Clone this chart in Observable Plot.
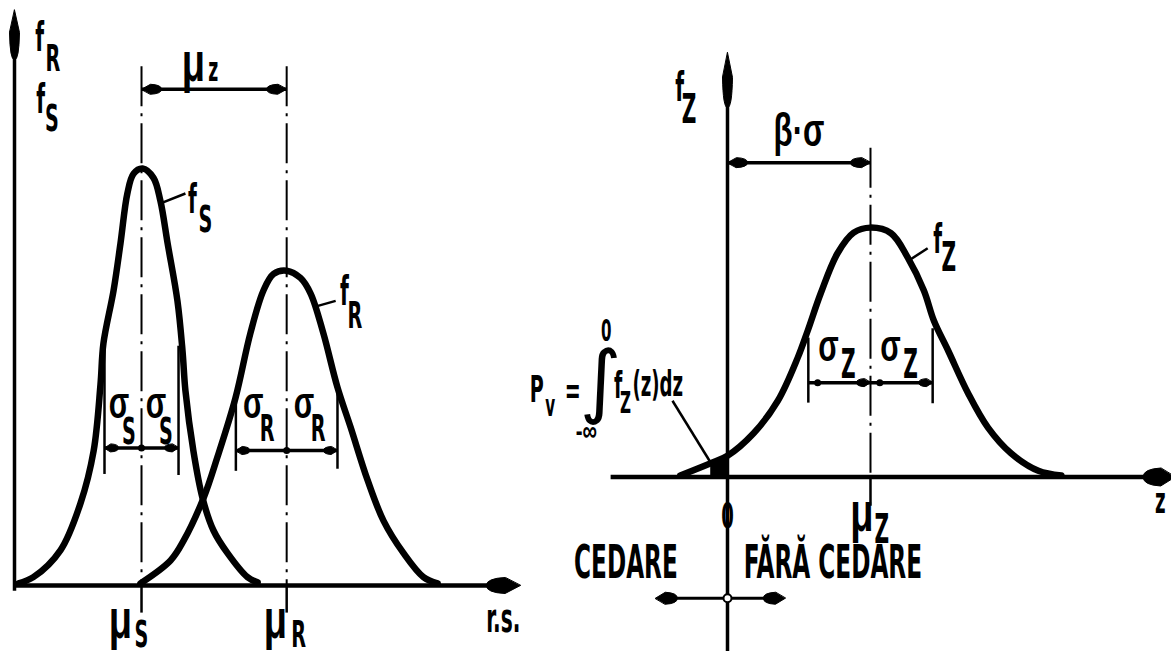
<!DOCTYPE html>
<html>
<head>
<meta charset="utf-8">
<script src="https://cdn.jsdelivr.net/npm/d3@7"></script>
<script src="https://cdn.jsdelivr.net/npm/@observablehq/plot@0.6"></script>
<style>
  html, body { margin: 0; padding: 0; background: #fff; }
  #fig { position: relative; width: 1171px; height: 651px; overflow: hidden; background: #fff; }
  #fig svg { position: absolute; left: 0; top: 0; }
</style>
</head>
<body>
<div id="fig"></div>
<script>
// Stress S and resistance R (abscissa in r.s. units, ordinate: density ×100)
const muS = 35, sigmaS = 10.2;
const muR = 75, sigmaR = 14;
const fS = [[1.1,0.2],[5.2,0.8],[12.7,3.4],[18.2,7.9],[21.8,12.9],[23.7,19.3],[24.5,23.2],[27.3,28.3],
  [29.2,32.8],[31.1,37.6],[32.8,39.5],[35.3,40.0],[38.3,39.1],[40.2,36.9],[42.2,32.8],[44.9,27.3],
  [46.3,22.5],[47.1,18.7],[49.3,12.9],[51.8,8.4],[54.8,5.3],[58.7,3.1],[64.2,0.8],[67.0,0.3]];
const fR = [[34.7,0.2],[43.0,2.4],[46.6,4.3],[52.1,8.4],[55.9,12.3],[60.9,18.0],[65.0,24.2],[68.6,28.3],
  [71.4,29.9],[75.0,30.2],[78.8,29.5],[81.6,28.0],[85.1,24.2],[89.0,19.0],[92.6,15.2],[97.3,10.1],
  [101.7,6.2],[107.2,3.1],[112.7,0.8],[116.6,0.2]];

// Safety margin Z = R − S (abscissa z, ordinate: density ×100)
const muZ = 2.3, sigmaZ = 1.0;
const fZ = [[-0.76,0.24],[-0.27,2.2],[0,3.4],[0.42,7.0],[0.81,12.2],[1.13,19.1],[1.29,23.4],[1.50,29.4],
  [1.77,35.8],[2.03,39.1],[2.3,39.9],[2.63,39.0],[2.90,35.1],[3.16,29.8],[3.32,25.0],[3.55,20.2],
  [3.87,13.4],[4.19,7.9],[4.56,3.8],[5.0,1.0],[5.37,0.24]];

const W = 1171, H = 651;
const NARROW = "'Liberation Sans Narrow', 'DejaVu Sans Condensed', sans-serif";
const GREEK = "'Liberation Sans', 'DejaVu Sans', sans-serif";
const svgStyle = {background: "none", overflow: "visible"};

// filled, slightly blunt arrowhead; tip at (0,-l) before rotation
const dart = {
  draw(ctx, l, r) {
    ctx.moveTo(0, -l);
    ctx.lineTo(r, -l * 0.55);
    ctx.quadraticCurveTo(r * 0.9, 0, 0, 0);
    ctx.quadraticCurveTo(-r * 0.9, 0, -r, -l * 0.55);
    ctx.closePath();
  }
};

const segs = (list, strokeWidth, extra = {}) => Plot.link(list, {
  x1: d => d[0], y1: d => d[1], x2: d => d[2], y2: d => d[3],
  stroke: "black", strokeWidth, strokeLinecap: "butt", ...extra
});
const heads = (list, length, r) => Plot.vector(list, {
  x: d => d[0], y: d => d[1], rotate: d => d[2], length, r, shape: dart,
  anchor: "end", fill: "black", stroke: "black", strokeWidth: 1
});
const curve = (data) => Plot.line(data, {
  x: d => d[0], y: d => d[1], curve: "catmull-rom", stroke: "black",
  strokeWidth: 6.5, strokeLinecap: "round", strokeLinejoin: "round"
});
const texts = (list, fontSize, fontFamily, textAnchor = "middle") => Plot.text(list, {
  x: d => d[1], y: d => d[2], text: d => d[0], fontSize, fontFamily,
  fontWeight: "bold", textAnchor, lineAnchor: "bottom", fill: "black"
});
const dash = {strokeDasharray: "40,7,3,7"};

// ---------- left panel: f_R, f_S
const left = Plot.plot({
  width: W, height: H, margin: 0, style: svgStyle,
  x: {domain: [0, 140], range: [14, 14 + 140 * 3.629], axis: null},
  y: {domain: [0, 40], range: [585, 585 - 40 * 10.425], axis: null},
  marks: [
    segs([[0, -0.5, 0, 52]], 3.5),
    segs([[-0.3, 0, 131, 0]], 4.5),
    heads([[0, 55.2, 0]], 50, 5),
    heads([[139.4, 0, 90]], 34, 8),
    segs([[muS, 49.8, muS, 0], [muR, 49.8, muR, 0]], 2, dash),
    segs([[muS, 0, muS, -2.6], [muR, 0, muR, -2.6]], 2.5),
    segs([[muS, 47.6, muR, 47.6]], 3.5),
    heads([[muS, 47.6, -90], [muR, 47.6, 90]], 20, 5),
    segs([[muS - sigmaS, 10.7, muS - sigmaS, 23.2], [muS + sigmaS, 10.6, muS + sigmaS, 23.0],
          [muR - sigmaR, 11.0, muR - sigmaR, 18.0], [muR + sigmaR, 11.2, muR + sigmaR, 19.0]], 2.5),
    segs([[muS - sigmaS, 13.2, muS + sigmaS, 13.2], [muR - sigmaR, 12.95, muR + sigmaR, 12.95]], 3.5),
    heads([[muS - sigmaS, 13.2, -90], [muS + sigmaS, 13.2, 90],
           [muR - sigmaR, 12.95, -90], [muR + sigmaR, 12.95, 90]], 14, 4),
    Plot.dot([[muS, 13.2], [muR, 12.95]], {x: d => d[0], y: d => d[1], r: 3.5, fill: "black"}),
    curve(fS),
    curve(fR),
    segs([[39.9, 36.6, 47.1, 37.6], [82.4, 26.7, 88.5, 27.3]], 2.5),
    texts([["f", 6.9, 51.3], ["f", 7.2, 45.3], ["f", 49.0, 35.7], ["f", 90.9, 26.9]], 40, NARROW),
    texts([["R", 10.6, 49.4], ["S", 10.3, 43.6], ["S", 52.6, 33.9], ["R", 93.8, 24.7],
           ["S", muS - sigmaS / 2 + 1.65, 13.6], ["S", muS + sigmaS / 2 + 1.65, 13.6],
           ["R", muR - sigmaR / 2 + 1.65, 13.9], ["R", muR + sigmaR / 2 + 1.65, 13.9],
           ["S", muS, -5.9], ["R", muR + 3.3, -5.9]], 38, NARROW),
    texts([["z", 54.8, 48.4]], 34, NARROW),
    texts([["r.s.", 134.7, -4.5]], 40, NARROW),
    texts([["μ", 49.3, 48.4], ["μ", muS - 5.8, -5.0], ["μ", muR - 3.1, -5.0]], 56, GREEK),
    texts([["σ", muS - sigmaS / 2 - 1.1, 16.1], ["σ", muS + sigmaS / 2 - 1.1, 16.1],
           ["σ", muR - sigmaR / 2 - 2.2, 16.1], ["σ", muR + sigmaR / 2 - 2.2, 16.1]], 44, GREEK)
  ]
});

// ---------- right panel: f_Z
const right = Plot.plot({
  width: W, height: H, margin: 0, style: svgStyle,
  x: {domain: [0, muZ], range: [727, 727 + muZ * 62.17], axis: null},
  y: {domain: [0, 40], range: [476.5, 476.5 - 40 * 6.25], axis: null},
  marks: [
    Plot.areaY(fZ.filter(d => d[0] <= 0 && d[0] > -0.5), {x: d => d[0], y: d => d[1], curve: "catmull-rom", fill: "black"}),
    segs([[0, -30, 0, 62]], 3.5),
    segs([[-1.88, 0, 6.75, 0]], 4.5),
    heads([[0, 67.9, 0]], 55, 5),
    heads([[7.2, 0, 90]], 32, 9),
    segs([[muZ, 52.7, muZ, 0]], 2, dash),
    segs([[muZ, 0, muZ, -4.6]], 2.5),
    segs([[0, 50.3, muZ, 50.3]], 3.5),
    heads([[0, 50.3, -90], [muZ, 50.3, 90]], 20, 5),
    segs([[muZ - sigmaZ, 11.9, muZ - sigmaZ, 22.3], [muZ + sigmaZ, 11.8, muZ + sigmaZ, 23.8]], 2.5),
    segs([[muZ - sigmaZ, 15.1, muZ + sigmaZ, 15.1]], 3.5),
    heads([[muZ, 15.1, 90], [muZ + sigmaZ, 15.1, 90]], 14, 4),
    Plot.dot([[muZ - sigmaZ + 0.15, 15.1], [muZ + 0.15, 15.1]], {x: d => d[0], y: d => d[1], r: 3.5, fill: "black"}),
    curve(fZ),
    segs([[2.91, 34.6, 3.22, 36.6], [-0.885, 12.2, -0.19, 1.0]], 2.5),
    // CEDARE / FĂRĂ CEDARE arrows
    segs([[-1.0, -19.4, 0.8, -19.4]], 3),
    heads([[-1.16, -19.4, -90], [0.93, -19.4, 90]], 22, 6),
    Plot.dot([[0, -19.4]], {x: d => d[0], y: d => d[1], r: 4, fill: "white", stroke: "black", strokeWidth: 2}),
    texts([["f", -0.77, 60.2], ["f", 3.38, 35.8]], 40, NARROW),
    texts([["Z", -0.62, 56.7], ["Z", 3.56, 33.0],
           ["Z", muZ - sigmaZ / 2 + 0.145, 15.9], ["Z", muZ + sigmaZ / 2 + 0.145, 15.9],
           ["Z", muZ + 0.18, -10.6]], 40, NARROW),
    texts([["0", 0, -8.1], ["z", 6.96, -5.7]], 36, NARROW),
    texts([["CEDARE", -0.8, -16.2]], 46, NARROW, "end"),
    texts([["FĂRĂ CEDARE", 0.26, -16.2]], 46, NARROW, "start"),
    texts([["P", -3.07, 12.0], ["=", -2.49, 11.9], ["f", -1.76, 12.7]], 38, NARROW),
    texts([["v", -2.85, 9.8], ["0", -1.95, 21.8], ["Z", -1.64, 10.2]], 30, NARROW),
    texts([["(z)dz", -1.53, 13.0]], 36, NARROW, "start"),
    texts([["-∞", -2.27, 5.8]], 30, GREEK),
    Plot.text([["∫", -2.04, 11.0]], {x: d => d[1], y: d => d[2], text: d => d[0], fontSize: 80,
      fontFamily: "'DejaVu Sans', sans-serif", textAnchor: "middle", lineAnchor: "bottom", fill: "black"}),
    texts([["β·σ", muZ / 2, 53.0]], 46, GREEK),
    texts([["σ", muZ - sigmaZ / 2 - 0.177, 18.6], ["σ", muZ + sigmaZ / 2 - 0.177, 18.6]], 44, GREEK),
    texts([["μ", muZ - 0.14, -8.6]], 56, GREEK)
  ]
});

const fig = document.getElementById("fig");
fig.append(left, right);

// narrow technical lettering: condense the labels horizontally
fig.querySelectorAll("text").forEach(t => {
  if (t.textContent === "∫") return;
  const g = t.closest("[font-family]");
  const narrow = g && g.getAttribute("font-family").includes("Narrow");
  const w = t.getComputedTextLength();
  t.setAttribute("textLength", (w * (narrow ? 0.56 : 0.68)).toFixed(1));
  t.setAttribute("lengthAdjust", "spacingAndGlyphs");
});
</script>
</body>
</html>
